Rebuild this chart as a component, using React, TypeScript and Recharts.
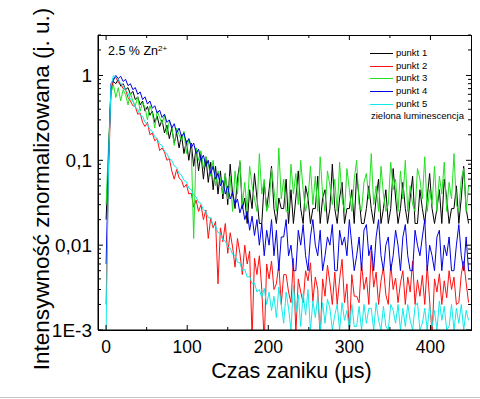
import { LineChart, Line, XAxis, YAxis, Legend, Label } from "recharts";

// normalised decay intensity, one sample every 3 µs starting at t = 0
const punkt1 = [
  0.02, 0.12, 0.7, 0.85, 0.8, 0.9, 0.75, 0.8, 0.68, 0.72,
  0.6, 0.65, 0.52, 0.56, 0.45, 0.5, 0.38, 0.43, 0.34, 0.38,
  0.28, 0.33, 0.25, 0.3, 0.21, 0.26, 0.18, 0.24, 0.16, 0.21,
  0.14, 0.2, 0.12, 0.17, 0.1, 0.16, 0.085, 0.14, 0.075, 0.12,
  0.06, 0.11, 0.055, 0.095, 0.045, 0.085, 0.04, 0.075, 0.035, 0.07,
  0.03, 0.09, 0.04, 0.027, 0.06, 0.095, 0.027, 0.036, 0.018, 0.045,
  0.027, 0.07, 0.036, 0.018, 0.018, 0.055, 0.027, 0.045, 0.085, 0.027,
  0.018, 0.036, 0.027, 0.027, 0.06, 0.018, 0.045, 0.018, 0.036, 0.075,
  0.027, 0.018, 0.05, 0.036, 0.018, 0.027, 0.027, 0.065, 0.018, 0.036,
  0.045, 0.018, 0.027, 0.09, 0.027, 0.018, 0.036, 0.055, 0.018, 0.027,
  0.027, 0.045, 0.018, 0.07, 0.036, 0.018, 0.018, 0.027, 0.05, 0.027,
  0.018, 0.036, 0.06, 0.018, 0.027, 0.045, 0.018, 0.027, 0.08, 0.036,
  0.018, 0.027, 0.055, 0.027, 0.018, 0.036, 0.065, 0.018, 0.018, 0.045,
  0.027, 0.018, 0.036, 0.07, 0.027, 0.018, 0.027, 0.045, 0.018, 0.06,
  0.036, 0.018, 0.027, 0.027, 0.05, 0.018, 0.036, 0.085, 0.027, 0.018,
];

const punkt2 = [
  0.002, 0.07, 0.65, 0.92, 0.95, 0.82, 0.8, 0.7, 0.68, 0.55,
  0.5, 0.44, 0.43, 0.35, 0.36, 0.28, 0.25, 0.28, 0.2, 0.21,
  0.17, 0.18, 0.13, 0.14, 0.125, 0.1, 0.105, 0.075, 0.06, 0.078,
  0.062, 0.058, 0.048, 0.052, 0.04, 0.041, 0.028, 0.034, 0.025, 0.03,
  0.02, 0.026, 0.012, 0.021, 0.016, 0.019, 0.0035, 0.016, 0.011, 0.018,
  0.008, 0.014, 0.0095, 0.0055, 0.012, 0.008, 0.0045, 0.01, 0.006, 0.0085,
  0.0008, 0.007, 0.0045, 0.0075, 0.003, 0.0007, 0.006, 0.004, 0.0065, 0.003,
  0.0035, 0.006, 0.002, 0.0045, 0.0045, 0.0028, 0.0021, 0.007, 0.0009, 0.004,
  0.0028, 0.0021, 0.005, 0.0038, 0.0062, 0.0022, 0.0042, 0.003, 0.0008, 0.004,
  0.0025, 0.0058, 0.0036, 0.002, 0.0048, 0.002, 0.004, 0.0068, 0.0021, 0.0035,
  0.0009, 0.0045, 0.0025, 0.0025, 0.0021, 0.0062, 0.003, 0.0042, 0.002, 0.0085,
  0.0032, 0.0048, 0.002, 0.0038, 0.0055, 0.0026, 0.002, 0.006, 0.003, 0.0041,
  0.0021, 0.0036, 0.005, 0.002, 0.0042, 0.0028, 0.0065, 0.002, 0.0039, 0.0025,
  0.0044, 0.002, 0.0058, 0.0022, 0.0009, 0.004, 0.0028, 0.0046, 0.002, 0.0038,
  0.0024, 0.005, 0.003, 0.0042, 0.002, 0.0021, 0.0045, 0.0065, 0.0036, 0.0021,
];

const punkt3 = [
  0.03, 0.15, 0.62, 0.78, 0.55, 0.72, 0.5, 0.68, 0.6, 0.45,
  0.62, 0.5, 0.44, 0.56, 0.38, 0.48, 0.42, 0.3, 0.44, 0.36,
  0.24, 0.38, 0.32, 0.27, 0.34, 0.2, 0.29, 0.25, 0.15, 0.24,
  0.2, 0.17, 0.22, 0.12, 0.18, 0.15, 0.012, 0.14, 0.1, 0.13,
  0.08, 0.11, 0.09, 0.065, 0.1, 0.05, 0.075, 0.06, 0.04, 0.07,
  0.035, 0.065, 0.025, 0.075, 0.04, 0.1, 0.03, 0.055, 0.025, 0.085,
  0.05, 0.035, 0.025, 0.12, 0.04, 0.06, 0.025, 0.03, 0.08, 0.045,
  0.025, 0.14, 0.035, 0.06, 0.025, 0.025, 0.09, 0.04, 0.07, 0.03,
  0.1, 0.045, 0.025, 0.035, 0.085, 0.03, 0.065, 0.025, 0.11, 0.04,
  0.025, 0.075, 0.05, 0.03, 0.06, 0.025, 0.095, 0.035, 0.025, 0.08,
  0.045, 0.025, 0.06, 0.1, 0.03, 0.025, 0.055, 0.07, 0.035, 0.12,
  0.03, 0.05, 0.025, 0.085, 0.04, 0.025, 0.03, 0.095, 0.045, 0.06,
  0.025, 0.075, 0.035, 0.1, 0.025, 0.05, 0.03, 0.025, 0.08, 0.06,
  0.035, 0.11, 0.025, 0.045, 0.03, 0.085, 0.025, 0.065, 0.04, 0.095,
  0.025, 0.055, 0.035, 0.12, 0.03, 0.025, 0.06, 0.08, 0.025, 0.05,
];

const punkt4 = [
  0.006, 0.1, 0.8, 0.88, 1.0, 0.92, 0.98, 0.85, 0.9, 0.76,
  0.8, 0.68, 0.72, 0.6, 0.64, 0.52, 0.56, 0.46, 0.5, 0.41,
  0.44, 0.36, 0.39, 0.32, 0.35, 0.28, 0.3, 0.24, 0.27, 0.21,
  0.24, 0.19, 0.21, 0.16, 0.18, 0.14, 0.16, 0.12, 0.135, 0.1,
  0.115, 0.085, 0.1, 0.07, 0.085, 0.06, 0.07, 0.05, 0.058, 0.04,
  0.05, 0.035, 0.042, 0.03, 0.035, 0.024, 0.03, 0.02, 0.025, 0.015,
  0.022, 0.013, 0.02, 0.01, 0.018, 0.0075, 0.015, 0.01, 0.02, 0.0075,
  0.015, 0.005, 0.0125, 0.0125, 0.02, 0.0075, 0.01, 0.005, 0.005, 0.015,
  0.01, 0.0175, 0.0075, 0.005, 0.0125, 0.02, 0.01, 0.0075, 0.015, 0.005,
  0.0075, 0.0125, 0.01, 0.0175, 0.005, 0.005, 0.015, 0.01, 0.0125, 0.0075,
  0.02, 0.01, 0.005, 0.0075, 0.0125, 0.005, 0.015, 0.0175, 0.0075, 0.01,
  0.005, 0.0125, 0.02, 0.0075, 0.005, 0.01, 0.0125, 0.005, 0.0075, 0.015,
  0.01, 0.005, 0.0125, 0.0175, 0.0075, 0.005, 0.005, 0.015, 0.01, 0.0075,
  0.0125, 0.02, 0.005, 0.01, 0.0075, 0.005, 0.0125, 0.015, 0.005, 0.01,
  0.0075, 0.0125, 0.005, 0.005, 0.01, 0.0175, 0.0075, 0.005, 0.0125, 0.005,
];

const punkt5 = [
  0.001, 0.09, 0.75, 1.0, 0.96, 0.9, 0.8, 0.77, 0.66, 0.62,
  0.52, 0.5, 0.42, 0.4, 0.34, 0.33, 0.28, 0.27, 0.23, 0.22,
  0.19, 0.18, 0.155, 0.15, 0.128, 0.12, 0.104, 0.1, 0.086, 0.082,
  0.07, 0.067, 0.058, 0.056, 0.047, 0.045, 0.039, 0.037, 0.032, 0.031,
  0.026, 0.025, 0.021, 0.021, 0.017, 0.017, 0.014, 0.0138, 0.0115, 0.0112,
  0.0095, 0.0092, 0.0078, 0.0076, 0.0063, 0.0062, 0.005, 0.0052, 0.0042, 0.0043,
  0.0035, 0.0036, 0.0028, 0.003, 0.0024, 0.0031, 0.002, 0.0028, 0.0017, 0.0025,
  0.0014, 0.0032, 0.002, 0.0012, 0.0028, 0.0018, 0.001, 0.0034, 0.0016, 0.0026,
  0.0011, 0.0027, 0.0015, 0.003, 0.001, 0.0022, 0.0014, 0.0025, 0.001, 0.0021,
  0.0012, 0.0023, 0.0018, 0.001, 0.0015, 0.002, 0.001, 0.0021, 0.0013, 0.0017,
  0.001, 0.002, 0.0011, 0.0011, 0.0019, 0.001, 0.002, 0.0012, 0.0018, 0.0018,
  0.001, 0.0021, 0.0013, 0.001, 0.0019, 0.0011, 0.001, 0.002, 0.0017, 0.0012,
  0.002, 0.001, 0.0018, 0.0011, 0.002, 0.0013, 0.001, 0.0019, 0.0021, 0.001,
  0.0012, 0.0018, 0.001, 0.002, 0.0011, 0.0017, 0.001, 0.0022, 0.0013, 0.0019,
  0.001, 0.0011, 0.002, 0.001, 0.0018, 0.0012, 0.002, 0.001, 0.0017, 0.0013,
];

const STEP_US = 3;
const timeUs = punkt1.map((_, i) => i * STEP_US);

const seriesNames = ["punkt 1", "punkt 2", "punkt 3", "punkt 4", "punkt 5"];
const seriesColors = ["#000000", "#ff1010", "#22e022", "#0000e6", "#10eaea"];
const seriesValues = [punkt1, punkt2, punkt3, punkt4, punkt5];

const xTicks = [0, 50, 100, 150, 200, 250, 300, 350, 400];
const xLabelTicks = [0, 100, 200, 300, 400];
const yTicks = [
  0.001, 0.002, 0.003, 0.004, 0.005, 0.006, 0.007, 0.008, 0.009,
  0.01, 0.02, 0.03, 0.04, 0.05, 0.06, 0.07, 0.08, 0.09,
  0.1, 0.2, 0.3, 0.4, 0.5, 0.6, 0.7, 0.8, 0.9,
  1, 2, 3,
];
const yMajorTicks = [0.001, 0.01, 0.1, 1];
const yMajorLabels = ["1E-3", "0,01", "0,1", "1"];

const X_DOMAIN = [-10, 450];
const Y_DOMAIN = [0.001, 3];

const data = timeUs.map((t, i) => {
  const row: Record<string, number> = { t };
  seriesValues.forEach((vals, k) => {
    row[`p${k + 1}`] = vals[i];
  });
  return row;
});

const FONT = "'Liberation Sans', Arial, sans-serif";
const GAP = 6;
const CHART_W = 480;
const CHART_H = 399;
const Y_AXIS_W = 98;
const X_AXIS_H = 69;
const MARGIN = { top: 35, right: 9, bottom: 0, left: 0 };
const PLOT_TOP = MARGIN.top;
const PLOT_RIGHT = CHART_W - MARGIN.right;

// bottom tick + label, plus the mirrored tick on the top edge of the frame
const BottomTick = (props: any) => {
  const { x, y, payload } = props;
  const edge = y - GAP;
  const major = xLabelTicks.includes(payload.value);
  const len = major ? 5 : 3;
  return (
    <g>
      <line x1={x} x2={x} y1={edge} y2={edge - len} stroke="#000" />
      <line x1={x} x2={x} y1={PLOT_TOP} y2={PLOT_TOP + len} stroke="#000" />
      {major && (
        <text x={x} y={edge + 23} textAnchor="middle" fontSize={17.5} fontFamily={FONT} fill="#000">
          {payload.value}
        </text>
      )}
    </g>
  );
};

// left tick + label, plus the mirrored tick on the right edge of the frame
const LeftTick = (props: any) => {
  const { x, y, payload } = props;
  const edge = x + GAP;
  const idx = yMajorTicks.indexOf(payload.value);
  const len = idx >= 0 ? 5 : 3;
  return (
    <g>
      <line x1={edge} x2={edge + len} y1={y} y2={y} stroke="#000" />
      <line x1={PLOT_RIGHT - len} x2={PLOT_RIGHT} y1={y} y2={y} stroke="#000" />
      {idx >= 0 && (
        <text x={x} y={y + 6.5} textAnchor="end" fontSize={19} fontFamily={FONT} fill="#000">
          {yMajorLabels[idx]}
        </text>
      )}
    </g>
  );
};

const XTitle = (props: any) => {
  const vb = props.viewBox;
  return (
    <text x={vb.x + vb.width / 2 + 7} y={vb.y + 48} textAnchor="middle" fontSize={21.5} fontFamily={FONT} fill="#000">
      Czas zaniku (μs)
    </text>
  );
};

const YTitle = (props: any) => {
  const vb = props.viewBox;
  const cx = vb.x + 49;
  const cy = vb.y + vb.height / 2 + 6.5;
  return (
    <text x={cx} y={cy} transform={`rotate(-90, ${cx}, ${cy})`} textAnchor="middle" fontSize={22.5} fontFamily={FONT} fill="#000">
      Intensywność znormalizowana (j. u.)
    </text>
  );
};

const LegendBox = (props: any) => {
  const { payload } = props;
  return (
    <div style={{ fontFamily: FONT, fontSize: 9.5, lineHeight: "12.7px", color: "#000" }}>
      {payload.map((e: any) => (
        <div key={e.value} style={{ display: "flex", alignItems: "center", height: 12.7 }}>
          <span style={{ display: "inline-block", width: 23, borderTop: `1.2px solid ${e.color}`, marginRight: 3 }} />
          <span>{e.value}</span>
        </div>
      ))}
      <div style={{ whiteSpace: "nowrap", marginLeft: 1 }}>zielona luminescencja</div>
    </div>
  );
};

export default function App() {
  return (
    <div style={{ position: "absolute", left: 0, top: 0, width: CHART_W, height: CHART_H, background: "#fff" }}>
      <LineChart width={CHART_W} height={CHART_H} data={data} margin={MARGIN}>
        <XAxis
          dataKey="t"
          type="number"
          domain={X_DOMAIN}
          allowDataOverflow
          ticks={xTicks}
          interval={0}
          tick={BottomTick}
          tickLine={false}
          tickSize={0}
          tickMargin={GAP}
          height={X_AXIS_H}
          axisLine={{ stroke: "#000" }}
        >
          <Label content={XTitle} />
        </XAxis>
        <YAxis
          type="number"
          scale="log"
          domain={Y_DOMAIN}
          allowDataOverflow
          ticks={yTicks}
          interval={0}
          tick={LeftTick}
          tickLine={false}
          tickSize={0}
          tickMargin={GAP}
          width={Y_AXIS_W}
          axisLine={{ stroke: "#000" }}
        >
          <Label content={YTitle} />
        </YAxis>
        <Legend
          layout="vertical"
          align="center"
          verticalAlign="middle"
          content={LegendBox}
          wrapperStyle={{ top: 47, left: 370, width: "auto" }}
        />
        {seriesNames.map((name, k) => (
          <Line
            key={name}
            type="linear"
            dataKey={`p${k + 1}`}
            name={name}
            stroke={seriesColors[k]}
            strokeWidth={1}
            dot={false}
            activeDot={false}
            isAnimationActive={false}
          />
        ))}
      </LineChart>
      {/* plot frame (box around the plotting area) */}
      <div
        style={{
          position: "absolute",
          left: MARGIN.left + Y_AXIS_W - 0.5,
          top: PLOT_TOP - 0.5,
          width: PLOT_RIGHT - (MARGIN.left + Y_AXIS_W) + 1,
          height: CHART_H - X_AXIS_H - PLOT_TOP + 1,
          boxSizing: "border-box",
          border: "1px solid #000",
          pointerEvents: "none",
        }}
      />
      <div style={{ position: "absolute", left: 108, top: 45, fontFamily: FONT, fontSize: 12.5, lineHeight: 1, color: "#000", whiteSpace: "nowrap" }}>
        2.5 % Zn<sup style={{ fontSize: 8, verticalAlign: "top" }}>2+</sup>
      </div>
      <div style={{ position: "absolute", left: 0, top: 397, width: CHART_W, height: 1, background: "#c4c4c4" }} />
    </div>
  );
}
